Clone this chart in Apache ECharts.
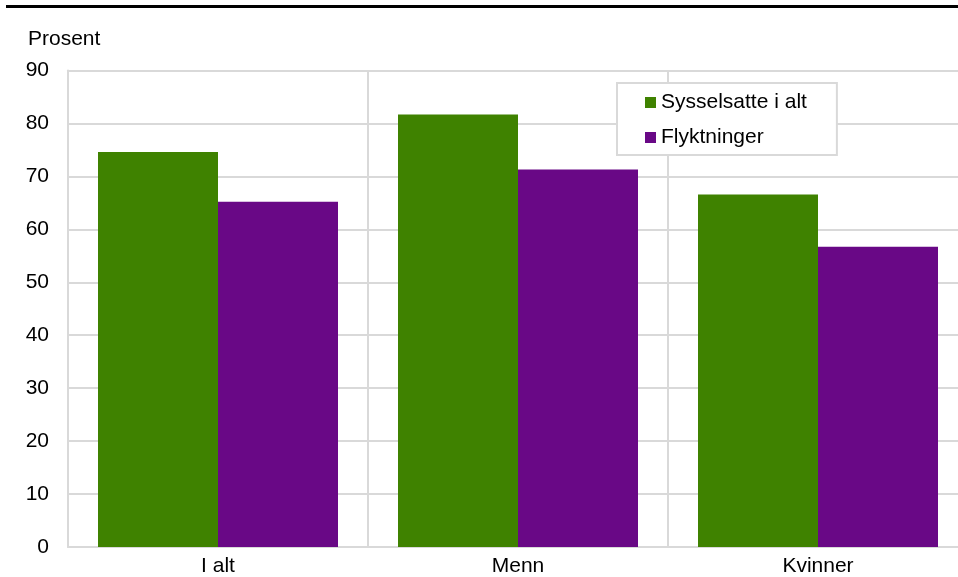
<!DOCTYPE html>
<html>
<head>
<meta charset="utf-8">
<script src="https://cdn.jsdelivr.net/npm/echarts@6/dist/echarts.min.js"></script>
<style>html,body{margin:0;padding:0;background:#fff;overflow:hidden;}#c{width:972px;height:577px;}</style>
</head>
<body>
<div id="c"></div>
<script>
var categories = ['I alt', 'Menn', 'Kvinner'];
var sysselsatte = [74.6, 81.7, 66.6];
var flyktninger = [65.2, 71.3, 56.7];
var yTicks = { min: 0, max: 90, interval: 10 };

var FONT = 'Liberation Sans, Arial, sans-serif';
var chart = echarts.init(document.getElementById('c'));
chart.setOption({
  animation: false,
  backgroundColor: '#fff',
  textStyle: { fontFamily: FONT },
  graphic: [
    { type: 'rect', left: 6, top: 5, shape: { width: 960, height: 3 }, style: { fill: '#000' } },
    { type: 'text', left: 28, top: 29, style: { text: 'Prosent', font: '21px ' + FONT, fill: '#000' } }
  ],
  grid: { left: 68, top: 70.5, right: 4, bottom: 28, containLabel: false },
  legend: {
    orient: 'vertical',
    left: 617, top: 83,
    padding: [9, 30, 7, 28],
    itemGap: 14,
    itemWidth: 11, itemHeight: 11,
    icon: 'rect',
    borderColor: '#d9d9d9', borderWidth: 2,
    backgroundColor: '#fff',
    textStyle: { fontSize: 21, color: '#000', fontFamily: FONT },
    data: ['Sysselsatte i alt', 'Flyktninger']
  },
  xAxis: {
    type: 'category',
    data: categories,
    boundaryGap: true,
    axisLine: { show: true, lineStyle: { color: '#d9d9d9', width: 2 } },
    axisTick: { show: false },
    axisLabel: { fontSize: 21, color: '#000', margin: 9, fontFamily: FONT },
    splitLine: { show: true, lineStyle: { color: '#d9d9d9', width: 2 } }
  },
  yAxis: {
    type: 'value',
    min: yTicks.min, max: yTicks.max, interval: yTicks.interval,
    axisLine: { show: true, lineStyle: { color: '#d9d9d9', width: 2 } },
    axisTick: { show: false },
    axisLabel: { fontSize: 21, color: '#000', margin: 19, fontFamily: FONT },
    splitLine: { show: true, lineStyle: { color: '#d9d9d9', width: 2 } }
  },
  series: [
    { name: 'Sysselsatte i alt', type: 'bar', data: sysselsatte, barWidth: 120, barGap: '0%',
      itemStyle: { color: '#3f8200' } },
    { name: 'Flyktninger', type: 'bar', data: flyktninger, barWidth: 120, barGap: '0%',
      itemStyle: { color: '#690886' } }
  ]
});
</script>
</body>
</html>
